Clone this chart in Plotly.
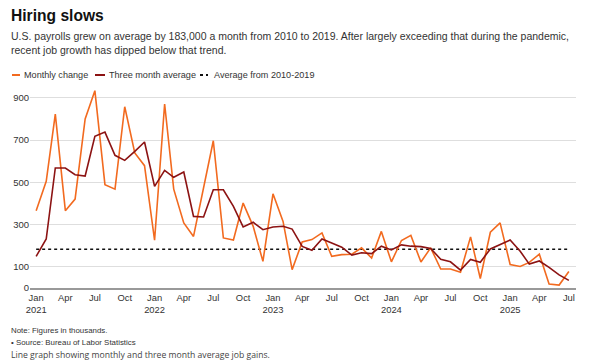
import plotly.graph_objects as go

# ---- data (thousands of jobs) ----
months = [f"{y}-{m:02d}-01" for y in range(2021, 2026) for m in range(1, 13)][:55]

monthly_change = [
    366, 505, 823, 366, 421, 800, 934, 489, 468, 858, 639, 579,   # 2021
    226, 871, 468, 308, 244, 481, 697, 237, 227, 402, 292, 126,   # 2022
    446, 315, 87, 218, 229, 261, 150, 158, 160, 190, 142, 268,    # 2023
    124, 225, 249, 123, 190, 90, 90, 75, 242, 45, 264, 308,       # 2024
    111, 102, 121, 160, 19, 14, 78,                               # 2025
]

three_month_avg = [
    150, 232, 568, 568, 536, 530, 718, 738, 628, 604, 647, 691,   # 2021
    481, 557, 524, 549, 339, 336, 465, 465, 386, 289, 311, 276,   # 2022
    289, 292, 279, 197, 179, 232, 213, 193, 156, 167, 163, 198,   # 2023
    180, 204, 198, 196, 187, 136, 124, 85, 135, 122, 185, 206,    # 2024
    227, 174, 113, 128, 98, 62, 36,                               # 2025
]

avg_2010_2019 = 183

tick_months = months[::3]
tick_labels = ["Jan<br>2021", "Apr", "Jul", "Oct",
               "Jan<br>2022", "Apr", "Jul", "Oct",
               "Jan<br>2023", "Apr", "Jul", "Oct",
               "Jan<br>2024", "Apr", "Jul", "Oct",
               "Jan<br>2025", "Apr", "Jul"]
y_ticks = [0, 100, 300, 500, 700, 900]

# ---- styles / geometry ----
FONT = "Liberation Sans, Arial, Helvetica, sans-serif"
NOTE_FONT = "Open Sans, Noto Sans, sans-serif"
ORANGE = "#f26a1f"
DARKRED = "#8c1313"

OFF = 8                      # page body margin
W, H = 613, 363
ML, MR, MT, MB = 22, 45, 80, 83
PW, PH = W - ML - MR, H - MT - MB


def px(x):                   # page pixel -> paper
    return (x - OFF - ML) / PW


def py(y):
    return (H - MB - (y - OFF)) / PH


fig = go.Figure()
fig.add_trace(go.Scatter(x=[months[0], months[-1]], y=[avg_2010_2019, avg_2010_2019],
                         mode="lines", line=dict(color="#111", width=1.5, dash="3px,3px"),
                         name="Average from 2010-2019", hoverinfo="skip"))
fig.add_trace(go.Scatter(x=months, y=monthly_change, mode="lines",
                         line=dict(color=ORANGE, width=1.6), name="Monthly change"))
fig.add_trace(go.Scatter(x=months, y=three_month_avg, mode="lines",
                         line=dict(color=DARKRED, width=1.6), name="Three month average"))

fig.update_layout(
    width=W, height=H,
    margin=dict(l=ML, r=MR, t=MT, b=MB, pad=0),
    paper_bgcolor="white", plot_bgcolor="white",
    showlegend=False,
    font=dict(family=FONT, color="#333", size=9.5),
    xaxis=dict(type="date", range=["2020-12-13", "2025-07-23"], automargin=False,
               tickvals=tick_months, ticktext=tick_labels,
               showgrid=False, showline=True, linecolor="#999", linewidth=1.5,
               ticks="", tickfont=dict(size=9.4, color="#333")),
    yaxis=dict(range=[0, 946.6], tickvals=y_ticks, showgrid=True, automargin=False,
               gridcolor="#dedede", gridwidth=1, zeroline=False,
               ticks="", tickfont=dict(size=9.5, color="#333")),
)

ann = []
ann.append(dict(text="<b>Hiring slows</b>", x=px(8.5), y=py(15), xanchor="left", yanchor="middle",
                font=dict(size=15.6, color="#111")))
ann.append(dict(text="U.S. payrolls grew on average by 183,000 a month from 2010 to 2019. After largely exceeding that during the pandemic,",
                x=px(8.5), y=py(36.5), xanchor="left", yanchor="middle", font=dict(size=10.5, color="#333")))
ann.append(dict(text="recent job growth has dipped below that trend.",
                x=px(8.5), y=py(50), xanchor="left", yanchor="middle", font=dict(size=10.5, color="#333")))

# legend
legend_items = [(12, 20, ORANGE, "solid", "Monthly change", 22),
                (95, 105, DARKRED, "solid", "Three month average", 106.5),
                (200, 208, "#111", "3px,3px", "Average from 2010-2019", 212)]
shapes = []
for x0, x1, col, dash, label, tx in legend_items:
    shapes.append(dict(type="line", xref="paper", yref="paper", x0=px(x0), x1=px(x1),
                       y0=py(75), y1=py(75), line=dict(color=col, width=2, dash=dash)))
    ann.append(dict(text=label, x=px(tx), y=py(75), xanchor="left", yanchor="middle",
                    font=dict(size=9.1, color="#333")))

ann.append(dict(text="Note: Figures in thousands.", x=px(8.5), y=py(330.5), xanchor="left",
                yanchor="middle", font=dict(size=7.9, color="#333")))
ann.append(dict(text="• Source: Bureau of Labor Statistics", x=px(8.5), y=py(342.5), xanchor="left",
                yanchor="middle", font=dict(size=7.9, color="#333")))
ann.append(dict(text="Line graph showing monthly and three month average job gains.", x=px(8.5),
                y=py(354.5), xanchor="left", yanchor="middle",
                font=dict(size=8.65, color="#444", family=NOTE_FONT)))

for a in ann:
    a.update(xref="paper", yref="paper", showarrow=False)
fig.update_layout(annotations=ann, shapes=shapes)

fig.write_html("out.html")
